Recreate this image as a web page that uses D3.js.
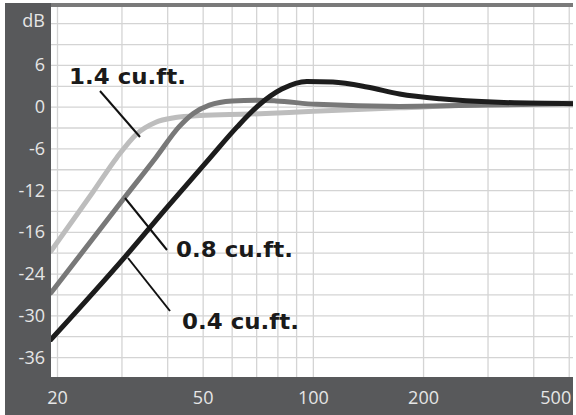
<!DOCTYPE html>
<html>
<head>
<meta charset="utf-8">
<script src="https://cdn.jsdelivr.net/npm/d3@7"></script>
<style>
  body { margin: 0; background: #fff; }
  svg { display: block; }
</style>
</head>
<body>
<div id="chart"></div>
<script>
const width = 576;
const height = 415;

// frequency (Hz) and response (dB)
const freq14 = [19.2, 25, 29, 33, 37, 42, 49, 67, 100, 172, 300, 512];
const db14   = [-20.7, -12.2, -7.3, -3.8, -2.2, -1.5, -1.2, -1.0, -0.6, -0.1, 0.4, 0.6];
const freq08 = [19.2, 30.5, 37.2, 43, 47, 52, 60, 70, 79, 102, 172, 300, 512];
const db08   = [-26.7, -13, -7.2, -2.8, -0.9, 0.3, 0.9, 1.0, 0.9, 0.4, 0.1, 0.3, 0.5];
const freq04 = [19.2, 30.5, 40, 52, 62, 71, 82, 96, 113, 140, 172, 222, 320, 512];
const db04   = [-33.4, -21.6, -14.3, -7.4, -2.8, 0.3, 2.6, 3.7, 3.6, 2.9, 1.9, 1.2, 0.7, 0.5];

const xTicks = [20, 50, 100, 200, 500];
const xGrid = [20, 30, 40, 50, 60, 70, 80, 90, 100, 200, 300, 400, 500];
const yTicks = [6, 0, -6, -12, -18, -24, -30, -36];
const yTickLabels = ["6", "0", "-6", "-12", "-16", "-24", "-30", "-36"];

const series = [
  { name: "1.4 cu.ft.", f: freq14, db: db14, color: "#bdbdbd" },
  { name: "0.8 cu.ft.", f: freq08, db: db08, color: "#787878" },
  { name: "0.4 cu.ft.", f: freq04, db: db04, color: "#1c1c1c" }
];

const margin = { top: 7, right: 3, bottom: 38, left: 51 };

const x = d3.scaleLog()
    .domain([19.2, 512])
    .range([margin.left, width - margin.right]);
const y = d3.scaleLinear()
    .domain([-38.8, 14.4])
    .range([height - margin.bottom, margin.top]);

const svg = d3.select("#chart")
  .append("svg")
    .attr("width", width)
    .attr("height", height);

// frame
svg.append("rect").attr("x", 5).attr("y", 3).attr("width", margin.left - 5).attr("height", height - 3).attr("fill", "#58595b");
svg.append("rect").attr("x", 5).attr("y", height - margin.bottom).attr("width", width - margin.right - 5).attr("height", margin.bottom).attr("fill", "#58595b");
svg.append("rect").attr("x", margin.left).attr("y", 3).attr("width", width - margin.right - margin.left).attr("height", 4).attr("fill", "#7a7a7a");

// grid
const grid = svg.append("g").attr("stroke", "#d4d4d4").attr("stroke-width", 1.3);
grid.selectAll("line.v")
  .data(xGrid)
  .join("line")
    .attr("x1", d => x(d)).attr("x2", d => x(d))
    .attr("y1", margin.top).attr("y2", height - margin.bottom);
grid.selectAll("line.h")
  .data(d3.range(-36, 13, 3))
  .join("line")
    .attr("x1", margin.left).attr("x2", width - margin.right)
    .attr("y1", d => y(d)).attr("y2", d => y(d));

// axes labels
const labelFont = "18px 'Open Sans', sans-serif";
svg.append("g")
    .style("font", labelFont)
    .attr("fill", "#e6e6e6")
    .attr("text-anchor", "end")
  .selectAll("text")
  .data(yTicks)
  .join("text")
    .attr("x", 45)
    .attr("y", d => y(d) + 6)
    .text((d, i) => yTickLabels[i]);
svg.append("text")
    .attr("x", 45).attr("y", y(12) + 3)
    .attr("text-anchor", "end")
    .attr("fill", "#e6e6e6")
    .style("font", labelFont)
    .text("dB");
svg.append("g")
    .style("font", labelFont)
    .attr("fill", "#e6e6e6")
  .selectAll("text")
  .data(xTicks)
  .join("text")
    .attr("x", d => x(d))
    .attr("y", height - 11)
    .attr("text-anchor", d => d === 500 ? "end" : "middle")
    .attr("dx", d => d === 500 ? 2 : 0)
    .text(d => d);

// curves
const line = d3.line()
    .x(d => x(d[0]))
    .y(d => y(d[1]))
    .curve(d3.curveMonotoneX);

svg.append("defs").append("clipPath").attr("id", "clip")
  .append("rect")
    .attr("x", margin.left).attr("y", margin.top)
    .attr("width", width - margin.left - margin.right)
    .attr("height", height - margin.top - margin.bottom);

svg.append("g")
    .attr("clip-path", "url(#clip)")
  .selectAll("path")
  .data(series)
  .join("path")
    .attr("fill", "none")
    .attr("stroke", d => d.color)
    .attr("stroke-width", 5)
    .attr("stroke-linecap", "round")
    .attr("d", d => line(d.f.map((f, i) => [f, d.db[i]])));

// annotations
const notes = [
  { text: "1.4 cu.ft.", tx: 69, ty: 84, lx1: 100, ly1: 91, lx2: 140, ly2: 137 },
  { text: "0.8 cu.ft.", tx: 176, ty: 257, lx1: 125, ly1: 198, lx2: 167, ly2: 250 },
  { text: "0.4 cu.ft.", tx: 182, ty: 329, lx1: 128, ly1: 258, lx2: 170, ly2: 311 }
];
const ann = svg.append("g");
ann.selectAll("line")
  .data(notes)
  .join("line")
    .attr("x1", d => d.lx1).attr("y1", d => d.ly1)
    .attr("x2", d => d.lx2).attr("y2", d => d.ly2)
    .attr("stroke", "#111")
    .attr("stroke-width", 2);
ann.selectAll("text")
  .data(notes)
  .join("text")
    .attr("x", d => d.tx)
    .attr("y", d => d.ty)
    .attr("fill", "#1a1a1a")
    .attr("textLength", 117)
    .attr("lengthAdjust", "spacingAndGlyphs")
    .style("font", "bold 22px 'DejaVu Sans', sans-serif")
    .text(d => d.text);
</script>
</body>
</html>
